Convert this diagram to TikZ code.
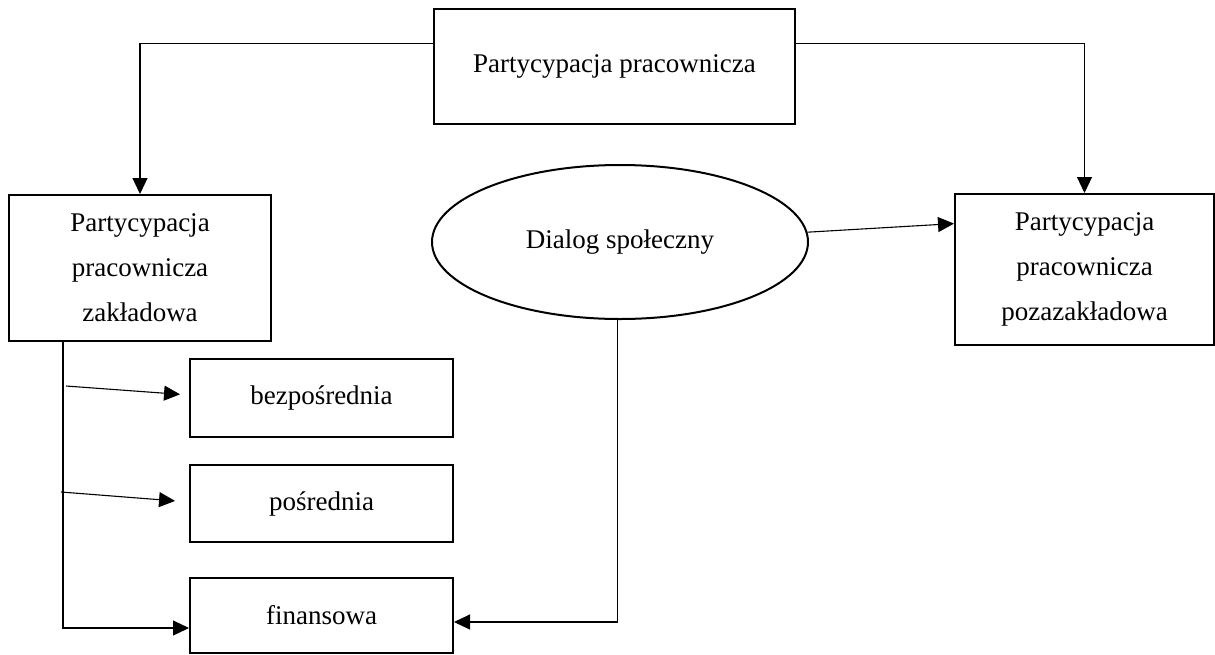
\documentclass[tikz,border=0pt]{standalone}
\usepackage{fontspec}
\setmainfont{Liberation Serif}
\usepackage{tikz}
\usetikzlibrary{calc,arrows.meta,positioning,shapes.geometric}

\begin{document}
\begin{tikzpicture}[x=0.5pt,y=-0.5pt,
  box/.style = {draw, line width=1pt, inner sep=0pt, align=center,
    font=\fontsize{13.5}{22.5}\selectfont},
  conn/.style = {line width=0.55pt, -{Triangle[length=8pt,width=7.5pt]}},
  ]
  \useasboundingbox (0,0) rectangle (1215,654);

  \node[box, minimum width=180.5pt, minimum height=57.5pt] (top) at (614.5,66.5) {Partycypacja pracownicza};

  \node[box, minimum width=131pt, minimum height=73pt] (zaklad) at (140,268) {Partycypacja\\pracownicza\\zakładowa};
  \node[box, minimum width=129.5pt, minimum height=75.5pt] (pozazaklad) at (1084.5,269.5) {Partycypacja\\pracownicza\\pozazakładowa};

  \node[box, ellipse, minimum width=188pt, minimum height=77pt] (dialog) at (620,242) {Dialog społeczny};

  \node[box, minimum width=131.5pt, minimum height=39pt] (bezp) at (321.5,398) {bezpośrednia};
  \node[box, minimum width=131.5pt, minimum height=38.5pt] (posr) at (321.5,503.5) {pośrednia};
  \node[box, minimum width=131.5pt, minimum height=37.5pt] (fin) at (321.5,615.5) {finansowa};

  % ramiona od gornego prostokata
  \coordinate (topL) at ($(top.north west)!0.3!(top.south west)$);
  \coordinate (topR) at ($(top.north east)!0.3!(top.south east)$);
  \draw[conn] (topL) -| (zaklad.north);
  \draw[conn] (topR) -| (pozazaklad.north);

  \draw[conn] (dialog.3) -- ($(pozazaklad.north west)!0.2!(pozazaklad.south west)$);
  \draw[conn] (dialog.-92) |- ($(fin.east)+(0,6.5)$);

  % pion spod ramki zakladowej
  \coordinate (trunk) at (63,341);
  \coordinate (a1) at (66,386);
  \coordinate (a2) at (61,492);
  \draw[line width=0.55pt] (zaklad.south -| trunk) -- (trunk);
  \draw[conn] (trunk) |- ($(fin.west)+(0,12.5)$);
  \draw[conn, shorten >=4.5pt] (a1) -- ($(bezp.west)+(0,-3)$);
  \draw[conn, shorten >=7pt] (a2) -- ($(posr.west)+(0,-1.5)$);
\end{tikzpicture}
\end{document}
